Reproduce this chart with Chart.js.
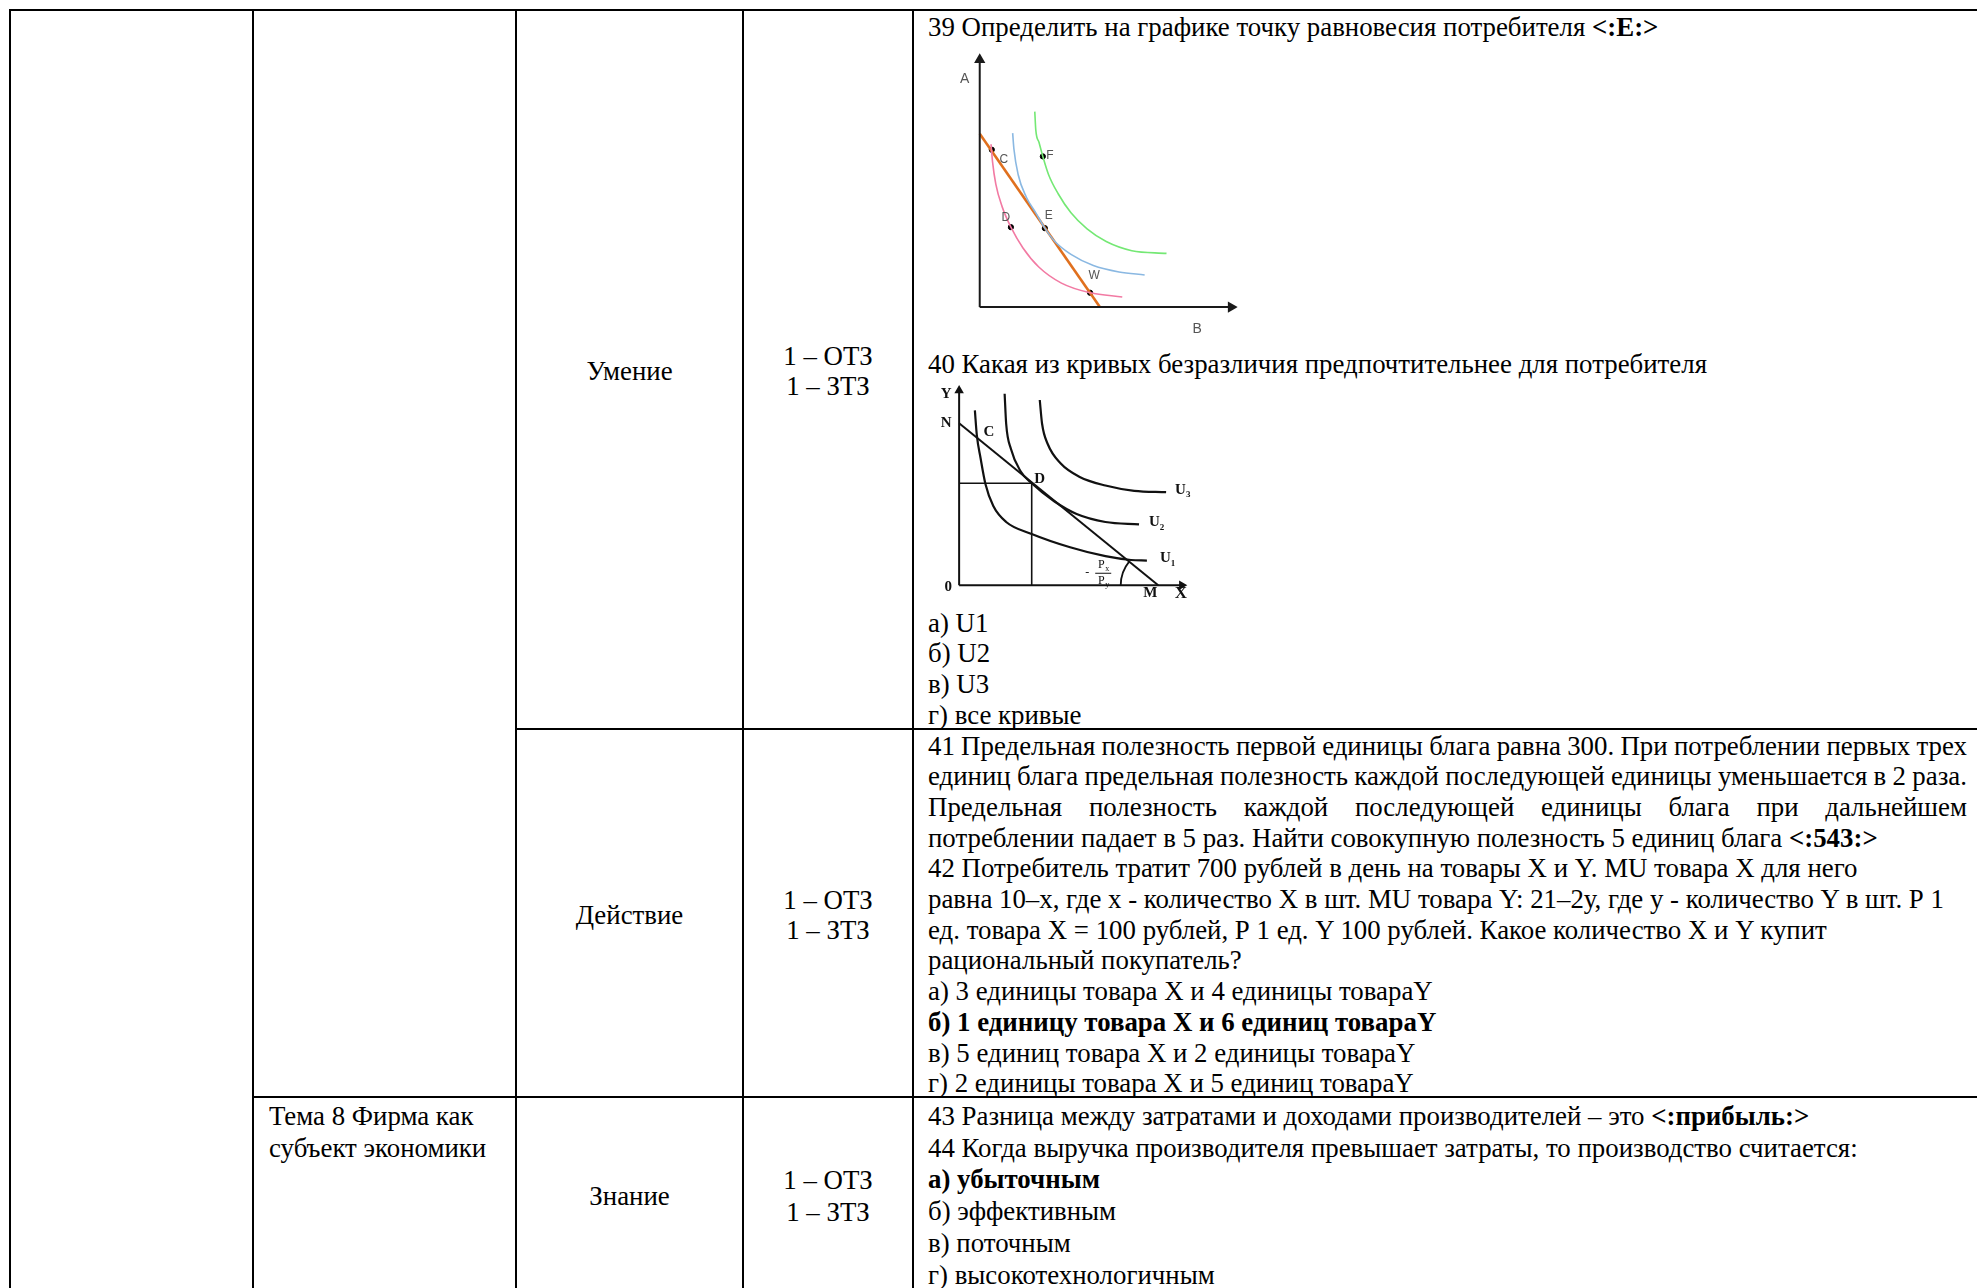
<!DOCTYPE html>
<html><head><meta charset="utf-8">
<script src="https://cdn.jsdelivr.net/npm/chart.js@4"></script>
<style>
html,body{margin:0;padding:0;background:#fff;}
body{width:1977px;height:1288px;overflow:hidden;position:relative;font-family:"Liberation Serif","Times New Roman",serif;font-size:26.85px;color:#000;}
.v{position:absolute;width:2px;background:#000;top:9px;height:1279px;}
.h{position:absolute;height:2px;background:#000;}
.t{position:absolute;white-space:nowrap;line-height:30.7px;height:30.7px;}
.c2{left:269px;}
.c3{left:516px;width:227px;text-align:center;}
.c4{left:743px;width:170px;text-align:center;}
.c5{left:928px;}
.j{display:flex;justify-content:space-between;width:1039px;}
canvas{position:absolute;}
</style></head><body>
<div class="h" style="left:9px;top:9px;width:1968px"></div>
<div class="h" style="left:515px;top:728px;width:1462px"></div>
<div class="h" style="left:252px;top:1096px;width:1725px"></div>
<div class="v" style="left:9px"></div>
<div class="v" style="left:252px"></div>
<div class="v" style="left:515px"></div>
<div class="v" style="left:742px"></div>
<div class="v" style="left:912px"></div>

<!-- Row 1 -->
<div class="t c3" style="top:355.6px">Умение</div>
<div class="t c4" style="top:340.6px">1 – ОТЗ</div>
<div class="t c4" style="top:371.3px">1 – ЗТЗ</div>
<div class="t c5" style="top:11.6px">39 Определить на графике точку равновесия потребителя <b>&lt;:E:&gt;</b></div>
<div class="t c5" style="top:348.6px">40 Какая из кривых безразличия предпочтительнее для потребителя</div>
<div class="t c5" style="top:607.6px">а) U1</div>
<div class="t c5" style="top:638.3px">б) U2</div>
<div class="t c5" style="top:669px">в) U3</div>
<div class="t c5" style="top:699.7px">г) все кривые</div>

<!-- Row 2 -->
<div class="t c3" style="top:899.6px">Действие</div>
<div class="t c4" style="top:884.6px">1 – ОТЗ</div>
<div class="t c4" style="top:915.3px">1 – ЗТЗ</div>
<div id="q41"></div>
<div class="t c5" style="top:853.3px">42 Потребитель тратит 700 рублей в день на товары X и Y. MU товара X для него</div>
<div class="t c5" style="top:884px">равна 10–х, где х - количество X в шт. MU товара Y: 21–2у, где у - количество Y в шт. Р 1</div>
<div class="t c5" style="top:914.7px">ед. товара X = 100 рублей, Р 1 ед. Y 100 рублей. Какое количество X и Y купит</div>
<div class="t c5" style="top:945.4px">рациональный покупатель?</div>
<div class="t c5" style="top:976.1px">а) 3 единицы товара X и 4 единицы товараY</div>
<div class="t c5" style="top:1006.8px"><b>б) 1 единицу товара X и 6 единиц товараY</b></div>
<div class="t c5" style="top:1037.5px">в) 5 единиц товара X и 2 единицы товараY</div>
<div class="t c5" style="top:1068.2px">г) 2 единицы товара X и 5 единиц товараY</div>

<!-- Row 3 -->
<div class="t c2" style="top:1100.6px">Тема 8 Фирма как</div>
<div class="t c2" style="top:1132.5px">субъект экономики</div>
<div class="t c3" style="top:1180.6px">Знание</div>
<div class="t c4" style="top:1164.6px">1 – ОТЗ</div>
<div class="t c4" style="top:1196.5px">1 – ЗТЗ</div>
<div class="t c5" style="top:1100.6px">43 Разница между затратами и доходами производителей – это <b>&lt;:прибыль:&gt;</b></div>
<div class="t c5" style="top:1132.5px">44 Когда выручка производителя превышает затраты, то производство считается:</div>
<div class="t c5" style="top:1164.4px"><b>а) убыточным</b></div>
<div class="t c5" style="top:1196.3px">б) эффективным</div>
<div class="t c5" style="top:1228.2px">в) поточным</div>
<div class="t c5" style="top:1260.1px">г) высокотехнологичным</div>

<canvas id="c1" width="330" height="310" style="left:930px;top:40px;width:330px;height:310px"></canvas>
<canvas id="c2" width="300" height="240" style="left:925px;top:375px;width:300px;height:240px"></canvas>

<script>
// ---------- Chart 1 (question 39) data ----------
const c1AxisLen = 10;
const c1BudgetX = [0, 4.78];
const c1BudgetY = [7.0, 0];
const c1PinkX = [0.45, 0.51, 0.64, 0.89, 1.24, 1.72, 2.36, 3.25, 4.39, 5.67];
const c1PinkY = [6.58, 5.87, 4.97, 4.06, 3.23, 2.39, 1.61, 0.97, 0.58, 0.41];
const c1BlueX = [1.31, 1.36, 1.53, 1.85, 2.23, 2.59, 2.99, 3.63, 4.52, 5.54, 6.56];
const c1BlueY = [7.03, 6.39, 5.35, 4.45, 3.81, 3.19, 2.65, 2.13, 1.68, 1.42, 1.30];
const c1GreenX = [2.19, 2.23, 2.36, 2.51, 2.74, 3.12, 3.63, 4.27, 5.03, 6.05, 7.43];
const c1GreenY = [7.90, 7.16, 6.65, 6.09, 5.35, 4.58, 3.81, 3.16, 2.65, 2.28, 2.17];
const c1PointNames = ['C', 'D', 'E', 'W', 'F'];
const c1PointX = [0.48, 1.24, 2.59, 4.39, 2.51];
const c1PointY = [6.36, 3.23, 3.19, 0.58, 6.09];
const c1AxisNames = ['A', 'B'];

// ---------- Chart 2 (question 40) data ----------
const c2AxisYLen = 10.25;
const c2AxisXLen = 11.6;
const c2BudgetX = [0, 10.37];
const c2BudgetY = [8.53, 0];
const c2PointD = [3.78, 5.37];
const c2PointC = [0.92, 7.92];
const c2U1X = [0.82, 0.92, 1.12, 1.37, 1.78, 2.45, 3.78, 5.78, 7.62, 8.95, 9.78];
const c2U1Y = [9.2, 7.92, 6.67, 5.33, 4.17, 3.33, 2.7, 2.0, 1.53, 1.33, 1.3];
const c2U2X = [2.37, 2.45, 2.7, 3.2, 3.78, 4.95, 6.12, 7.62, 9.37];
const c2U2Y = [10.08, 8.5, 7.17, 6.0, 5.37, 4.42, 3.75, 3.33, 3.2];
const c2U3X = [4.2, 4.32, 4.62, 5.28, 6.28, 7.62, 9.12, 10.78];
const c2U3Y = [9.75, 8.5, 7.42, 6.42, 5.7, 5.25, 4.97, 4.9];
const c2CurveNames = ['U', 'U', 'U'];
const c2CurveSubs = ['1', '2', '3'];

// ---------- Q41 justified lines ----------
const q41Lines = [
  '41 Предельная полезность первой единицы блага равна 300. При потреблении первых трех',
  'единиц блага предельная полезность каждой последующей единицы уменьшается в 2 раза.',
  'Предельная полезность каждой последующей единицы блага при дальнейшем'
];
(function(){
  const host = document.getElementById('q41');
  q41Lines.forEach((ln, i) => {
    const d = document.createElement('div');
    d.className = 't c5 j';
    d.style.top = (730.5 + i * 30.7) + 'px';
    ln.split(' ').forEach(w => { const s = document.createElement('span'); s.textContent = w; d.appendChild(s); });
    host.appendChild(d);
  });
  const last = document.createElement('div');
  last.className = 't c5';
  last.style.top = (730.5 + 3 * 30.7) + 'px';
  last.innerHTML = 'потреблении падает в 5 раз. Найти совокупную полезность 5 единиц блага <b>&lt;:543:&gt;</b>';
  host.appendChild(last);
})();

const zip = (xs, ys) => xs.map((x, i) => ({x: x, y: ys[i]}));
function frame(originPx, ppu, size) { return {min: -originPx / ppu, max: (size - originPx) / ppu}; }

const textPlugin = {
  id: 'texts',
  afterDatasetsDraw(chart, args, opts) {
    const ctx = chart.ctx, sx = chart.scales.x, sy = chart.scales.y;
    ctx.save();
    (opts.items || []).forEach(it => {
      const px = sx.getPixelForValue(it.x) + it.dx, py = sy.getPixelForValue(it.y) + it.dy;
      ctx.fillStyle = it.color;
      ctx.textBaseline = 'middle';
      ctx.font = it.font;
      if (it.sub) {
        ctx.textAlign = 'left';
        const w = ctx.measureText(it.text).width;
        ctx.fillText(it.text, px, py);
        ctx.font = it.subFont;
        ctx.fillText(it.sub, px + w, py + 5);
      } else {
        ctx.textAlign = 'center';
        ctx.fillText(it.text, px, py);
      }
    });
    if (opts.extra) opts.extra(chart);
    ctx.restore();
  }
};

const baseOpts = (fx, fy, items, extra) => ({
  responsive: false, animation: false, events: [],
  layout: {padding: 0},
  plugins: {legend: {display: false}, tooltip: {enabled: false}, texts: {items: items, extra: extra}},
  scales: {
    x: {type: 'linear', display: false, min: fx.min, max: fx.max},
    y: {type: 'linear', display: false, min: fy.min, max: fy.max}
  }
});

const lineDs = (data, color, width, extra) => Object.assign({
  data: data, borderColor: color, backgroundColor: color, borderWidth: width,
  showLine: true, pointRadius: 0, fill: false, clip: false,
  cubicInterpolationMode: 'monotone'
}, extra || {});

// ---------- Chart 1 ----------
const f1x = frame(45, 26.17, 330), f1y = frame(38, 25.83, 310);
const lblFont1 = '12px "Liberation Sans", Arial, sans-serif';
const axFont1 = '14px "Liberation Sans", Arial, sans-serif';
const c1Offsets = [[12, 10], [-5, -9], [4, -12], [4, -17], [7, -1]];
const c1Items = c1PointNames.map((n, i) => ({text: n, x: c1PointX[i], y: c1PointY[i], dx: c1Offsets[i][0], dy: c1Offsets[i][1], font: lblFont1, color: '#555'}));
c1Items.push({text: c1AxisNames[0], x: 0, y: c1AxisLen, dx: -15, dy: 20, font: axFont1, color: '#555'});
c1Items.push({text: c1AxisNames[1], x: c1AxisLen, y: 0, dx: -34, dy: 22, font: axFont1, color: '#555'});

new Chart(document.getElementById('c1'), {
  type: 'scatter',
  data: {datasets: [
    lineDs([{x: 0, y: 0}, {x: 0, y: c1AxisLen}], '#1a1a1a', 2, {pointRadius: [0, 4.5], pointStyle: 'triangle', pointRotation: [0, 0]}),
    lineDs([{x: 0, y: 0}, {x: c1AxisLen, y: 0}], '#1a1a1a', 2, {pointRadius: [0, 4.5], pointStyle: 'triangle', pointRotation: [0, 90]}),
    lineDs(zip(c1GreenX, c1GreenY), '#74e874', 1.6),
    lineDs(zip(c1BlueX, c1BlueY), '#8ab8e2', 1.6),
    lineDs(zip(c1PinkX, c1PinkY), '#f27aa3', 1.6),
    lineDs(zip(c1BudgetX, c1BudgetY), '#e0701e', 2.6),
    {data: zip(c1PointX, c1PointY), showLine: false, pointRadius: 2.6, pointBackgroundColor: '#000', pointBorderColor: '#000', clip: false}
  ]},
  options: baseOpts(f1x, f1y, c1Items),
  plugins: [textPlugin]
});

// ---------- Chart 2 ----------
const f2x = frame(29.3, 20, 300), f2y = frame(25, 20, 240);
const bf = 'bold 15px "Liberation Serif", "Times New Roman", serif';
const bfs = 'bold 9px "Liberation Serif", "Times New Roman", serif';
const c2Items = [
  {text: 'Y', x: 0, y: c2AxisYLen, dx: -13, dy: 4, font: bf, color: '#111'},
  {text: 'N', x: c2BudgetX[0], y: c2BudgetY[0], dx: -13, dy: 0, font: bf, color: '#111'},
  {text: 'C', x: c2PointC[0], y: c2PointC[1], dx: 12, dy: -3, font: bf, color: '#111'},
  {text: 'D', x: c2PointD[0], y: c2PointD[1], dx: 8, dy: -4, font: bf, color: '#111'},
  {text: '0', x: 0, y: 0, dx: -11, dy: 2, font: bf, color: '#111'},
  {text: 'M', x: c2BudgetX[1], y: 0, dx: -8, dy: 8, font: bf, color: '#111'},
  {text: 'X', x: c2AxisXLen, y: 0, dx: -1, dy: 8, font: 'bold 17px "Liberation Serif", serif', color: '#111'}
];
const ends = [[c2U1X, c2U1Y, 13], [c2U2X, c2U2Y, 10], [c2U3X, c2U3Y, 9]];
ends.forEach((e, i) => {
  const n = e[0].length - 1;
  c2Items.push({text: c2CurveNames[i], sub: c2CurveSubs[i], x: e[0][n], y: e[1][n], dx: e[2], dy: -2, font: bf, subFont: bfs, color: '#111'});
});
const c2Extra = chart => {
  const ctx = chart.ctx, sx = chart.scales.x, sy = chart.scales.y;
  const mx = sx.getPixelForValue(c2BudgetX[1]), my = sy.getPixelForValue(0);
  const nx = sx.getPixelForValue(c2BudgetX[0]), ny = sy.getPixelForValue(c2BudgetY[0]);
  const ang = Math.atan2(my - ny, mx - nx);
  ctx.strokeStyle = '#111'; ctx.lineWidth = 1.8;
  ctx.beginPath(); ctx.arc(mx, my, 37.5, Math.PI, Math.PI + ang, false); ctx.stroke();
  // -Px/Py fraction
  const fx = mx - 55, fy = my - 13;
  ctx.fillStyle = '#111';
  ctx.font = '12px "Liberation Serif", serif';
  ctx.textAlign = 'center'; ctx.textBaseline = 'middle';
  ctx.fillText('-', fx - 16, fy + 1);
  ctx.fillText('P', fx - 2, fy - 7);
  ctx.fillText('P', fx - 2, fy + 9);
  ctx.font = '8px "Liberation Serif", serif';
  ctx.fillText('x', fx + 4, fy - 3);
  ctx.fillText('y', fx + 4, fy + 13);
  ctx.lineWidth = 1; ctx.beginPath(); ctx.moveTo(fx - 8, fy + 1); ctx.lineTo(fx + 8, fy + 1); ctx.stroke();
};

new Chart(document.getElementById('c2'), {
  type: 'scatter',
  data: {datasets: [
    lineDs([{x: 0, y: 0}, {x: 0, y: c2AxisYLen}], '#111', 2, {pointRadius: [0, 3.5], pointStyle: 'triangle', pointRotation: [0, 0]}),
    lineDs([{x: 0, y: 0}, {x: c2AxisXLen, y: 0}], '#111', 2, {pointRadius: [0, 3.5], pointStyle: 'triangle', pointRotation: [0, 90]}),
    lineDs([{x: 0, y: c2PointD[1]}, {x: c2PointD[0], y: c2PointD[1]}], '#111', 1.6),
    lineDs([{x: c2PointD[0], y: c2PointD[1]}, {x: c2PointD[0], y: 0}], '#111', 1.6),
    lineDs(zip(c2BudgetX, c2BudgetY), '#111', 2),
    lineDs(zip(c2U1X, c2U1Y), '#111', 2.2),
    lineDs(zip(c2U2X, c2U2Y), '#111', 2.2),
    lineDs(zip(c2U3X, c2U3Y), '#111', 2.2)
  ]},
  options: baseOpts(f2x, f2y, c2Items, c2Extra),
  plugins: [textPlugin]
});
</script>
</body></html>
